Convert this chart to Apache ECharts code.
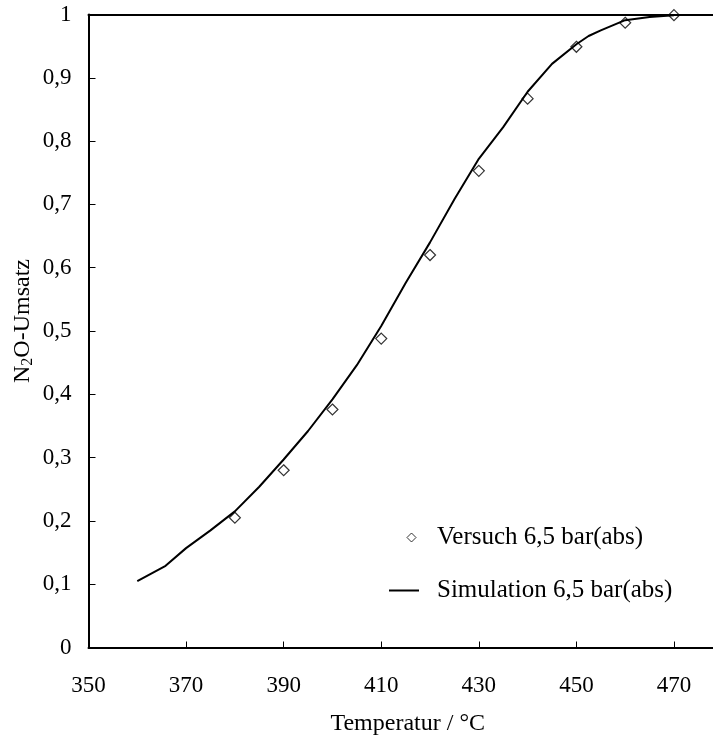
<!DOCTYPE html>
<html>
<head>
<meta charset="utf-8">
<script src="https://cdn.jsdelivr.net/npm/echarts@6/dist/echarts.min.js"></script>
<style>html,body{margin:0;padding:0;background:#fff}#c{width:713px;height:735px}</style>
</head>
<body>
<div id="c"></div>
<script>
var expTemps = [380, 390, 400, 410, 420, 430, 440, 450, 460, 470];
var expValues = [0.205, 0.280, 0.376, 0.488, 0.620, 0.753, 0.867, 0.949, 0.987, 0.999];
var simTemps = [360, 365.8, 370, 375, 380, 385, 390, 395, 400, 405, 410, 415, 420, 425, 430, 435, 440, 445, 450, 452.5, 455, 460, 465, 470];
var simValues = [0.105, 0.129, 0.157, 0.185, 0.215, 0.254, 0.297, 0.342, 0.392, 0.446, 0.508, 0.576, 0.640, 0.708, 0.772, 0.822, 0.878, 0.922, 0.953, 0.966, 0.975, 0.991, 0.996, 0.999];
var xTicks = [350, 370, 390, 410, 430, 450, 470];
var yTicks = [0, 0.1, 0.2, 0.3, 0.4, 0.5, 0.6, 0.7, 0.8, 0.9, 1];

var FONT = 'Liberation Serif';
var chart = echarts.init(document.getElementById('c'));
function pairs(xs, ys){ return xs.map(function(x,i){ return [x, ys[i]]; }); }

chart.setOption({
  animation: false,
  grid: {left: 88.5, right: 0, top: 14.5, bottom: 87.5, containLabel: false, outerBoundsMode: 'none'},
  legend: [
    {data: ['Versuch 6,5 bar(abs)'], left: 406.5, top: 525, padding: 0, icon: 'diamond',
     itemWidth: 9, itemHeight: 9, itemStyle: {borderWidth: 1},
     textStyle: {fontFamily: FONT, fontSize: 25, color: '#000', padding: [0,0,0,16]}},
    {data: ['Simulation 6,5 bar(abs)'], left: 389, top: 578, padding: 0, icon: 'rect',
     itemWidth: 30, itemHeight: 2,
     textStyle: {fontFamily: FONT, fontSize: 25, color: '#000', padding: [0,0,0,13]}}
  ],
  xAxis: [{
    type: 'value', min: 350, max: 478, interval: 20, position: 'bottom',
    name: 'Temperatur / °C', nameLocation: 'middle', nameGap: 64, nameMoveOverlap: false,
    nameTextStyle: {fontFamily: FONT, fontSize: 24, color: '#000', padding: [0,0,0,14]},
    axisLine: {show: true, onZero: false, lineStyle: {color: '#000', width: 2}},
    axisTick: {show: true, inside: true, length: 6, lineStyle: {color: '#000', width: 1}},
    axisLabel: {fontFamily: FONT, fontSize: 23, color: '#000', margin: 27, showMaxLabel: false,
      formatter: function(v){ return xTicks.indexOf(v) >= 0 ? String(v) : ''; }},
    splitLine: {show: false}
  }, {
    type: 'value', min: 350, max: 478, position: 'top',
    axisLine: {show: true, onZero: false, lineStyle: {color: '#000', width: 2}},
    axisTick: {show: false}, axisLabel: {show: false}, splitLine: {show: false}
  }],
  yAxis: {
    type: 'value', min: 0, max: 1, interval: 0.1,
    name: '{a|N}{s|2}{a|O-Umsatz}', nameLocation: 'middle', nameGap: 53, nameMoveOverlap: false,
    nameTextStyle: {fontFamily: FONT, fontSize: 24, color: '#000', padding: [0,0,0,20],
      rich: {a: {fontFamily: FONT, fontSize: 24, color: '#000', lineHeight: 26},
             s: {fontFamily: FONT, fontSize: 16, color: '#000', lineHeight: 14, verticalAlign: 'bottom'}}},
    axisLine: {show: true, lineStyle: {color: '#000', width: 2}},
    axisTick: {show: true, inside: true, length: 7, lineStyle: {color: '#000', width: 1}},
    axisLabel: {fontFamily: FONT, fontSize: 23, color: '#000', margin: 17,
      formatter: function(v){ var r = Math.round(v*10)/10; return yTicks.indexOf(r) >= 0 ? String(r).replace('.', ',') : ''; }},
    splitLine: {show: false}
  },
  series: [
    {name: 'Simulation 6,5 bar(abs)', type: 'line', data: pairs(simTemps, simValues),
     showSymbol: false, symbol: 'none', smooth: false,
     lineStyle: {color: '#000', width: 2}, itemStyle: {color: '#000'}, z: 2},
    {name: 'Versuch 6,5 bar(abs)', type: 'scatter', data: pairs(expTemps, expValues),
     symbol: 'diamond', symbolSize: 11,
     itemStyle: {color: 'rgba(255,255,255,0)', borderColor: '#000', borderWidth: 1.2}, z: 3}
  ]
});
</script>
</body>
</html>
